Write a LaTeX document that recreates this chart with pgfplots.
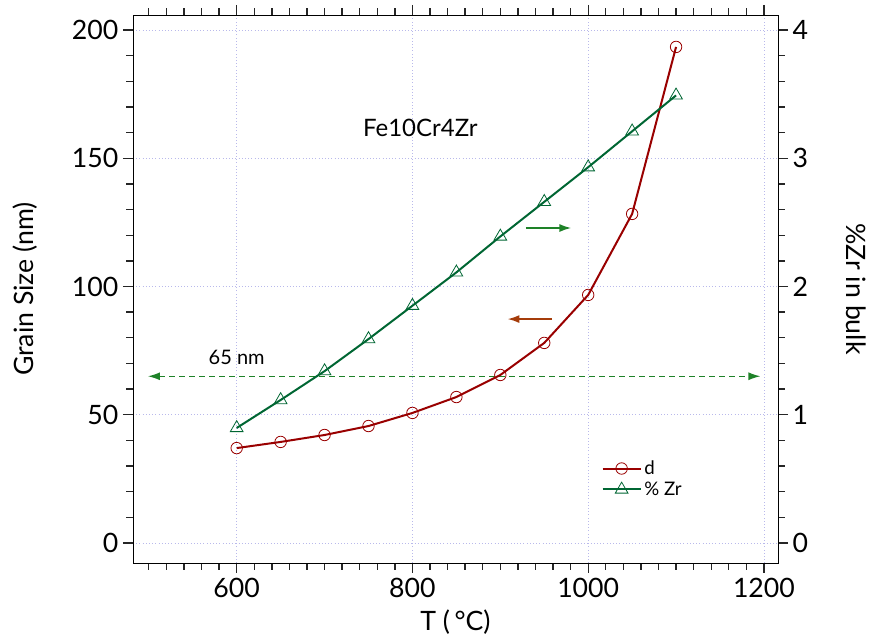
\documentclass[border=0pt]{standalone}
\usepackage{pgfplots}
\pgfplotsset{compat=1.18}
\usepackage{fontspec}
\setmainfont{Lato}
\usetikzlibrary{arrows.meta}
\definecolor{dred}{RGB}{153,0,0}
\definecolor{dgreen}{RGB}{0,102,51}
\definecolor{lgreen}{RGB}{30,130,40}
\definecolor{brn}{RGB}{165,60,10}
\definecolor{gridc}{RGB}{185,185,235}
\begin{document}
\begin{tikzpicture}
\path[use as bounding box] (0,0) rectangle (651.75pt,478.5pt);
\pgfplotsset{every axis/.append style={
  scale only axis, width=483.75pt, height=411pt,
  at={(99.75pt,56.25pt)}, anchor=south west,
  xmin=482, xmax=1216,
  tick align=outside, major tick length=7.5pt, minor tick length=5pt,
  every tick/.style={black!85, line width=1pt},
  tick label style={font=\fontsize{20}{22}\selectfont},
  label style={font=\fontsize{20}{22}\selectfont},
  xtick={600,800,1000,1200}, minor xtick={500,520,...,1200},
  /pgf/number format/assume math mode=true,
  /pgf/number format/set thousands separator={}}}
\begin{axis}[
  ymin=-7.8, ymax=205.85,
  ytick={0,50,...,200}, minor ytick={0,10,...,200},
  xtick pos=left, ytick pos=left,
  grid=major, major grid style={gridc, dotted, line width=0.6pt},
  xlabel={T (\,°C)}, ylabel={Grain\ Size\ (nm)},
  xlabel style={at={(axis description cs:0.5,-0.108)}, anchor=center},
  ylabel style={at={(axis description cs:-0.167,0.5)}, anchor=center},
]
\addplot[lgreen, line width=1pt, dash pattern=on 4.5pt off 3pt, {Latex[length=9pt,width=6pt]}-{Latex[length=9pt,width=6pt]}] coordinates {(499,65) (1196,65)};
\addplot[lgreen, line width=1.5pt, -{Latex[length=9pt,width=6pt]}] coordinates {(929,122.8) (981,122.8)};
\addplot[brn, line width=1.5pt, -{Latex[length=9pt,width=6pt]}] coordinates {(959,87.3) (908,87.3)};
\addplot[dred, line width=1.5pt, mark=o, mark size=4.3pt, mark options={fill=white, line width=0.6pt, solid}] coordinates {
(600,37) (650,39.4) (700,42.1) (750,45.6) (800,50.7) (850,56.9) (900,65.5) (950,78) (1000,96.7) (1050,128.3) (1100,193.4)};
\node[font=\fontsize{18}{20}\selectfont] at (axis cs:809,162) {Fe10Cr4Zr};
\node[font=\fontsize{15}{17}\selectfont] at (axis cs:600,72.5) {65 nm};
\end{axis}
\begin{axis}[
  ymin=-0.156, ymax=4.117,
  xtick pos=right, ytick pos=right, xticklabels={},
  ytick={0,1,2,3,4}, minor ytick={0,0.2,...,4},
  ylabel={\%Zr in bulk},
  ylabel style={at={(axis description cs:1.122,0.5)}, anchor=center, rotate=180},
  legend style={at={(axis description cs:0.72,0.197)}, anchor=north west, draw=none, fill=none, font=\fontsize{14}{17}\selectfont},
  legend cell align=left,
  legend image code/.code={\draw[mark repeat=2,mark phase=2] plot coordinates {(0cm,0cm) (0.5cm,0cm) (1cm,0cm)};},
]
\addlegendimage{dred, line width=1.5pt, mark=o, mark size=4.3pt, mark options={fill=white, line width=0.6pt, solid}}
\addlegendentry{d}
\addplot[dgreen, line width=1.5pt, mark=triangle, mark size=5.5pt, mark options={fill=white, line width=0.6pt, solid}] coordinates {
(600,0.897) (650,1.115) (700,1.34) (750,1.59) (800,1.85) (850,2.11) (900,2.39) (950,2.66) (1000,2.93) (1050,3.21) (1100,3.49)};
\addlegendentry{\% Zr}
\end{axis}
\end{tikzpicture}
\end{document}
